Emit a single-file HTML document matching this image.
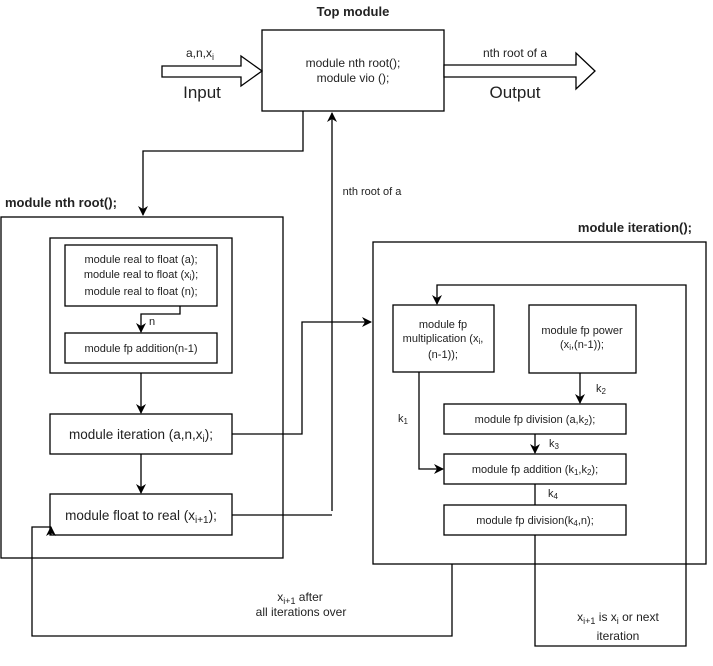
<!DOCTYPE html>
<html><head><style>
body{margin:0;background:#fff;}
svg text{font-family:"Liberation Sans",Arial,sans-serif;fill:#222;}
</style></head><body>
<svg width="713" height="661" viewBox="0 0 713 661" xmlns="http://www.w3.org/2000/svg">
<defs>
<marker id="a" markerWidth="10" markerHeight="10" refX="9" refY="5" orient="auto" markerUnits="userSpaceOnUse">
<path d="M0,0 L10,5 L0,10 L3,5 Z" fill="#000"/></marker>
</defs>
<g fill="none" stroke="#000" stroke-width="1.3">
<rect x="262" y="30" width="182" height="81" fill="#fff"/>
<path d="M162,66 H241 V56 L262,71 L241,86 V77 H162 Z" fill="#fff"/>
<path d="M444,65 H576 V53 L595,71 L576,89 V77 H444 Z" fill="#fff"/>
<rect x="1" y="217" width="282" height="341"/>
<rect x="50" y="238" width="182" height="135"/>
<rect x="65" y="245" width="152" height="61"/>
<rect x="65" y="333" width="152" height="30"/>
<rect x="50" y="414" width="182" height="40"/>
<rect x="50" y="494" width="182" height="41"/>
<rect x="373" y="242" width="333" height="322"/>
<rect x="393" y="305" width="101" height="67"/>
<rect x="529" y="305" width="107" height="68"/>
<rect x="444" y="404" width="182" height="30"/>
<rect x="444" y="454" width="182" height="30"/>
<rect x="444" y="505" width="182" height="30"/>
<path d="M303,111 V151 H143 V215" marker-end="url(#a)"/>
<path d="M332,511 V113" marker-end="url(#a)"/>
<path d="M180,306 V314 H141 V332" marker-end="url(#a)"/>
<path d="M141,373 V413" marker-end="url(#a)"/>
<path d="M141,454 V493" marker-end="url(#a)"/>
<path d="M232,434 H302 V322 H371" marker-end="url(#a)"/>
<path d="M232,515 H332"/>
<path d="M452,564 V636 H32 V527 H51"/>
<path d="M51,535 V527" marker-end="url(#a)"/>
<path d="M535,535 V646 H686 V285 H437 V304" marker-end="url(#a)"/>
<path d="M580,373 V403" marker-end="url(#a)"/>
<path d="M535,434 V453" marker-end="url(#a)"/>
<path d="M535,484 V505"/>
<path d="M419,372 V469 H443" marker-end="url(#a)"/>
</g>
<g font-size="12" text-anchor="middle">
<text x="353" y="16" font-weight="bold" font-size="13">Top module</text>
<text x="353" y="67">module nth root();</text>
<text x="353" y="82">module vio ();</text>
<text x="200" y="57">a,n,x<tspan font-size="9" dy="3">i</tspan></text>
<text x="202" y="98" font-size="17">Input</text>
<text x="515" y="57">nth root of a</text>
<text x="515" y="98" font-size="17">Output</text>
<text x="5" y="207" font-weight="bold" font-size="13" text-anchor="start">module nth root();</text>
<text x="372" y="195" font-size="11">nth root of a</text>
<text x="141" y="263" font-size="11">module real to float (a);</text>
<text x="141" y="278" font-size="11">module real to float (x<tspan font-size="8" dy="2">i</tspan><tspan dy="-2">);</tspan></text>
<text x="141" y="295" font-size="11">module real to float (n);</text>
<text x="152" y="325" font-size="11">n</text>
<text x="141" y="352" font-size="11">module fp addition(n-1)</text>
<text x="141" y="439" font-size="13.5">module iteration (a,n,x<tspan font-size="10" dy="3">i</tspan><tspan dy="-3">);</tspan></text>
<text x="141" y="520" font-size="13.5">module float to real (x<tspan font-size="10" dy="3">i+1</tspan><tspan dy="-3">);</tspan></text>
<text x="692" y="232" font-weight="bold" font-size="13" text-anchor="end">module iteration();</text>
<text x="443" y="328" font-size="11">module fp</text>
<text x="443" y="342" font-size="11">multiplication (x<tspan font-size="8" dy="2">i</tspan><tspan dy="-2">,</tspan></text>
<text x="443" y="358" font-size="11">(n-1));</text>
<text x="582" y="334" font-size="11">module fp power</text>
<text x="582" y="348" font-size="11">(x<tspan font-size="8" dy="2">i</tspan><tspan dy="-2">,(n-1));</tspan></text>
<text x="535" y="423" font-size="11">module fp division (a,k<tspan font-size="8" dy="2">2</tspan><tspan dy="-2">);</tspan></text>
<text x="535" y="473" font-size="11">module fp addition (k<tspan font-size="8" dy="2">1</tspan><tspan dy="-2">,k</tspan><tspan font-size="8" dy="2">2</tspan><tspan dy="-2">);</tspan></text>
<text x="535" y="524" font-size="11">module fp division(k<tspan font-size="8" dy="2">4</tspan><tspan dy="-2">,n);</tspan></text>
<text x="601" y="392" font-size="11">k<tspan font-size="8" dy="2">2</tspan></text>
<text x="403" y="422" font-size="11">k<tspan font-size="8" dy="2">1</tspan></text>
<text x="554" y="447" font-size="11">k<tspan font-size="8" dy="2">3</tspan></text>
<text x="553" y="497" font-size="11">k<tspan font-size="8" dy="2">4</tspan></text>
<text x="300" y="601">x<tspan font-size="9" dy="3">i+1</tspan><tspan dy="-3">  after</tspan></text>
<text x="301" y="616">all iterations over</text>
<text x="618" y="621">x<tspan font-size="9" dy="3">i+1</tspan><tspan dy="-3">  is x</tspan><tspan font-size="9" dy="3">i</tspan><tspan dy="-3"> or next</tspan></text>
<text x="618" y="640">iteration</text>
</g>
</svg>
</body></html>
